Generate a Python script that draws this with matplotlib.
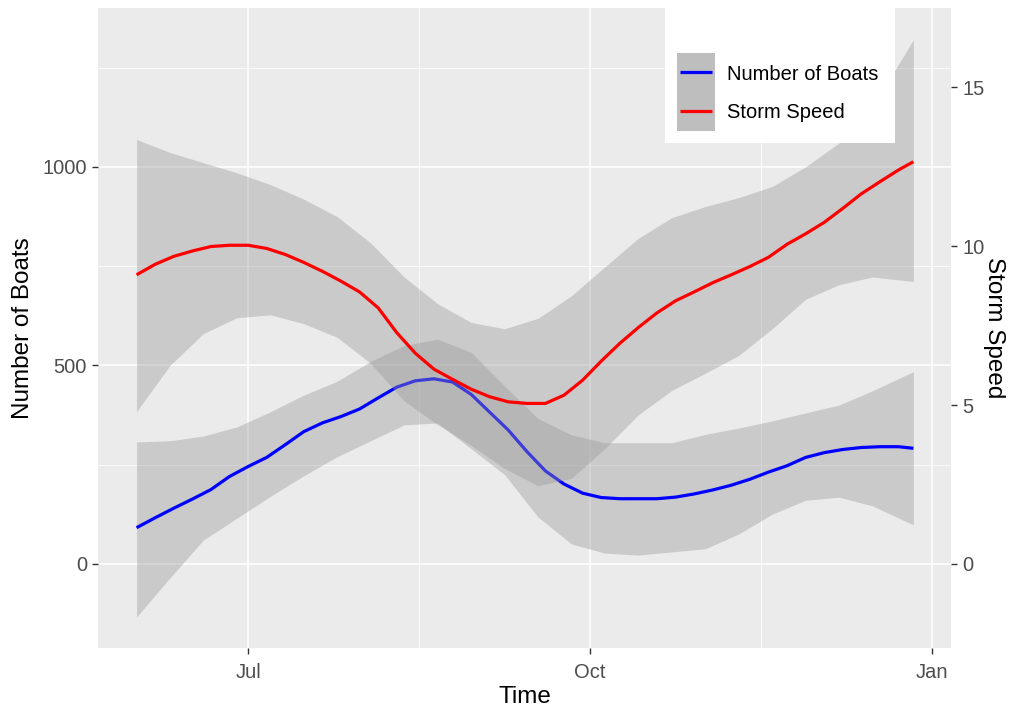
import matplotlib
matplotlib.use("Agg")
import matplotlib.pyplot as plt
import numpy as np
import pandas as pd
from matplotlib.patches import Rectangle

plt.rcParams['font.family'] = ['Liberation Sans', 'DejaVu Sans']

# ---- data ----
# fitted lines, sampled every 5 days
line_dates = ["2021-06-01", "2021-06-06", "2021-06-11", "2021-06-16", "2021-06-21",
              "2021-06-26", "2021-07-01", "2021-07-06", "2021-07-11", "2021-07-16",
              "2021-07-21", "2021-07-26", "2021-07-31", "2021-08-05", "2021-08-10",
              "2021-08-15", "2021-08-20", "2021-08-25", "2021-08-30", "2021-09-04",
              "2021-09-09", "2021-09-14", "2021-09-19", "2021-09-24", "2021-09-29",
              "2021-10-04", "2021-10-09", "2021-10-14", "2021-10-19", "2021-10-24",
              "2021-10-29", "2021-11-03", "2021-11-08", "2021-11-13", "2021-11-18",
              "2021-11-23", "2021-11-28", "2021-12-03", "2021-12-08", "2021-12-13",
              "2021-12-18", "2021-12-23", "2021-12-27"]

boats = [91, 116, 140, 163, 187, 220, 245, 268, 300, 333, 355, 371, 390, 418,
         445, 461, 466, 458, 427, 382, 337, 283, 234, 201, 178, 167, 164, 164,
         164, 168, 176, 186, 198, 213, 231, 247, 268, 280, 288, 293, 295, 295, 291]

storm = [9.10, 9.43, 9.68, 9.85, 9.99, 10.03, 10.03, 9.93, 9.74, 9.49, 9.21,
         8.90, 8.56, 8.06, 7.28, 6.63, 6.13, 5.81, 5.50, 5.26, 5.10, 5.05, 5.05,
         5.31, 5.78, 6.38, 6.94, 7.44, 7.90, 8.28, 8.56, 8.85, 9.10, 9.36, 9.65,
         10.06, 10.39, 10.75, 11.19, 11.65, 12.03, 12.40, 12.66]

# confidence bands, sampled every 9 days
band_dates = ["2021-06-01", "2021-06-10", "2021-06-19", "2021-06-28", "2021-07-07",
              "2021-07-16", "2021-07-25", "2021-08-03", "2021-08-12", "2021-08-21",
              "2021-08-30", "2021-09-08", "2021-09-17", "2021-09-26", "2021-10-05",
              "2021-10-14", "2021-10-23", "2021-11-01", "2021-11-10", "2021-11-19",
              "2021-11-28", "2021-12-07", "2021-12-16", "2021-12-27"]

boats_upper = [307, 310, 322, 345, 383, 425, 460, 510, 550, 566, 533, 448,
               366, 325, 305, 305, 305, 326, 342, 360, 380, 400, 436, 484]
boats_lower = [-134, -35, 60, 115, 170, 222, 270, 310, 350, 355, 290, 225,
               118, 50, 27, 22, 30, 38, 75, 125, 160, 168, 146, 98]

storm_upper = [13.36, 12.95, 12.63, 12.31, 11.94, 11.48, 10.93, 10.10, 9.03, 8.19, 7.60, 7.40,
               7.73, 8.44, 9.35, 10.25, 10.90, 11.25, 11.53, 11.88, 12.50, 13.25, 14.38, 16.50]
storm_lower = [4.79, 6.25, 7.25, 7.75, 7.84, 7.56, 7.13, 6.31, 5.13, 4.38, 3.73, 3.00,
               2.46, 2.69, 3.63, 4.69, 5.46, 6.00, 6.56, 7.40, 8.33, 8.79, 9.03, 8.89]

scale_factor = 80  # storm speed -> boats axis

x_major = ["2021-07-01", "2021-10-01", "2022-01-01"]
x_major_labels = ["Jul", "Oct", "Jan"]
x_minor = ["2021-08-16", "2021-11-16"]
y_major = [0, 500, 1000]
y_minor = [250, 750, 1250]
y2_major = [0, 5, 10, 15]
legend_labels = ["Number of Boats", "Storm Speed"]

# ---- figure ----
fig = plt.figure(figsize=(10.12, 7.07), dpi=100)
fig.patch.set_facecolor("white")
ax = fig.add_axes([98/1012, 1-648/707, 853/1012, 640/707])
ax.set_facecolor("#EBEBEB")

tl = pd.to_datetime(line_dates)
tb = pd.to_datetime(band_dates)
s = np.array(storm) * scale_factor
su = np.array(storm_upper) * scale_factor
sl = np.array(storm_lower) * scale_factor

LW = 2.3
ax.fill_between(tb, boats_lower, boats_upper, color="#999999", alpha=0.4, lw=0, zorder=2)
ax.plot(tl, boats, color="#0000FF", lw=LW, zorder=3, solid_capstyle="butt")
ax.fill_between(tb, sl, su, color="#999999", alpha=0.4, lw=0, zorder=4)
ax.plot(tl, s, color="#FF0000", lw=LW, zorder=5, solid_capstyle="butt")

ax.set_xlim(pd.Timestamp("2021-05-21 15:00"), pd.Timestamp("2022-01-06 03:00"))
ax.set_ylim(-212, 1400)

ax.set_xticks(pd.to_datetime(x_major))
ax.set_xticklabels(x_major_labels)
ax.set_xticks(pd.to_datetime(x_minor), minor=True)
ax.set_yticks(y_major)
ax.set_yticks(y_minor, minor=True)

ax.grid(which="major", color="white", lw=1.1, zorder=1)
ax.grid(which="minor", color="white", lw=0.55, zorder=1)
ax.set_axisbelow(True)
for sp in ax.spines.values():
    sp.set_visible(False)

ax.tick_params(which="major", length=4, width=1, color="#333333",
               labelcolor="#4D4D4D", labelsize=14.5, pad=4)
ax.tick_params(which="minor", length=0)
ax.tick_params(axis="x", pad=7)

ax.set_xlabel("Time", fontsize=17.5, color="black", labelpad=3)
ax.set_ylabel("Number of Boats", fontsize=17.5, color="black", labelpad=6)

ax2 = ax.twinx()
ax2.set_ylim(-212/scale_factor, 1400/scale_factor)
ax2.set_yticks(y2_major)
for sp in ax2.spines.values():
    sp.set_visible(False)
ax2.tick_params(which="major", length=4, width=1, color="#333333",
                labelcolor="#4D4D4D", labelsize=14.5, pad=4)
ax2.set_ylabel("Storm Speed", fontsize=17.5, color="black", rotation=-90,
               labelpad=15)

# ---- legend (drawn inside panel, top right) ----
def ax_x(px):
    return (px - 98) / 853
def ax_y(py):
    return (648 - py) / 640

leg_box = Rectangle((ax_x(665), ax_y(143)), ax_x(895) - ax_x(665), ax_y(4) - ax_y(143),
                    transform=ax.transAxes, facecolor="white", edgecolor="none",
                    zorder=10, clip_on=False)
ax.add_patch(leg_box)
key = Rectangle((ax_x(677), ax_y(131)), ax_x(715) - ax_x(677), ax_y(53) - ax_y(131),
                transform=ax.transAxes, facecolor="#BEBEBE", edgecolor="none", zorder=11)
ax.add_patch(key)
ax.plot([ax_x(680), ax_x(712)], [ax_y(72), ax_y(72)], transform=ax.transAxes,
        color="#0000FF", lw=LW, zorder=12, solid_capstyle="butt")
ax.plot([ax_x(680), ax_x(712)], [ax_y(111), ax_y(111)], transform=ax.transAxes,
        color="#FF0000", lw=LW, zorder=12, solid_capstyle="butt")
ax.text(ax_x(727), ax_y(74), legend_labels[0], transform=ax.transAxes,
        fontsize=14.5, color="black", va="center", ha="left", zorder=12)
ax.text(ax_x(727), ax_y(113), legend_labels[1], transform=ax.transAxes,
        fontsize=14.5, color="black", va="center", ha="left", zorder=12)

fig.savefig("out.png", dpi=100)
